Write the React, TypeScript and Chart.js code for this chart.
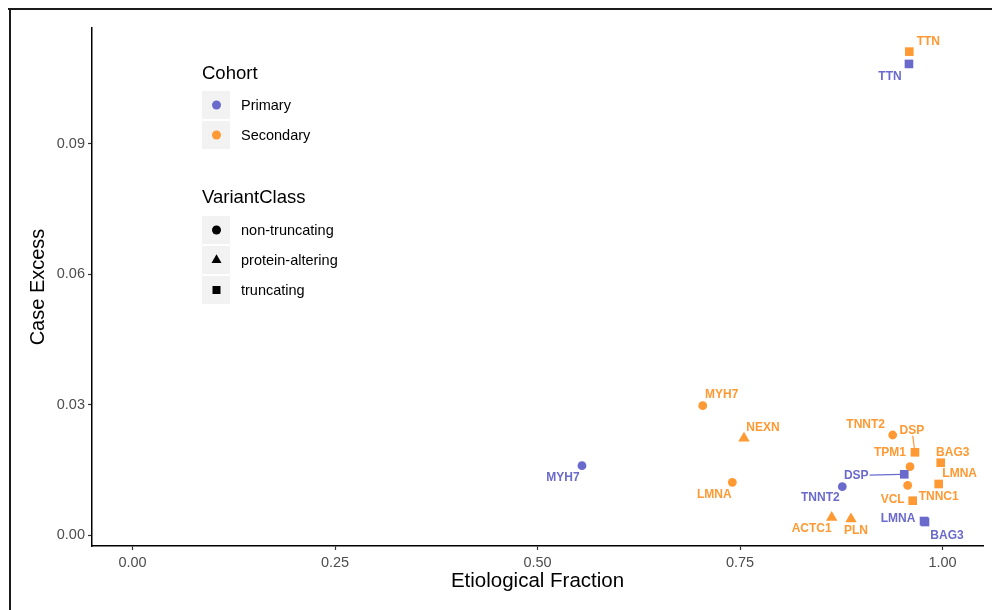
import React, { useEffect, useRef } from 'react';
import { Chart, registerables } from 'chart.js';

Chart.register(...registerables);

// ---- data ----
const cohorts = ['Primary', 'Secondary'];
const cohortColors = ['#6a6acd', '#ff9933'];
const variantClasses = ['non-truncating', 'protein-altering', 'truncating'];
const classShapes = ['circle', 'triangle', 'rect'];

const primaryGenes = ['MYH7', 'TNNT2', 'DSP', 'LMNA', 'BAG3', 'TTN'];
const primaryClass = ['non-truncating', 'non-truncating', 'truncating', 'truncating', 'truncating', 'truncating'];
const primaryEtiologicalFraction = [0.5549, 0.8763, 0.9528, 0.9772, 0.9784, 0.9586];
const primaryCaseExcess = [0.01595, 0.01112, 0.01397, 0.00322, 0.00299, 0.10843];
// label nudges (px) and whether a connector segment is drawn
const primaryLabelNudge = [[-19, 12], [-22, 11], [-48, 1], [-26, -2], [22, 14], [-19, 13]];
const primaryLabelSegment = [false, false, true, false, false, false];

const secondaryGenes = ['MYH7', 'NEXN', 'LMNA', 'TNNT2', 'DSP', 'TPM1', 'VCL', 'TNNC1', 'BAG3', 'LMNA', 'ACTC1', 'PLN', 'TTN'];
const secondaryClass = ['non-truncating', 'protein-altering', 'non-truncating', 'non-truncating', 'truncating', 'non-truncating', 'non-truncating', 'truncating', 'truncating', 'truncating', 'protein-altering', 'protein-altering', 'truncating'];
const secondaryEtiologicalFraction = [0.7040, 0.7549, 0.7405, 0.9385, 0.9660, 0.9599, 0.9570, 0.9632, 0.9978, 0.9953, 0.8632, 0.8870, 0.9590];
const secondaryCaseExcess = [0.02977, 0.02226, 0.01213, 0.02302, 0.01904, 0.01572, 0.01144, 0.00790, 0.01664, 0.01174, 0.00403, 0.00368, 0.11126];
const secondaryLabelNudge = [[19, -11], [19, -11], [-18, 12], [-27, -10], [-3, -22], [-20, -14], [-15, 14], [26, -4], [12, -10], [21, -10], [-20, 11], [5, 12], [19, -10]];
const secondaryLabelSegment = [false, false, false, false, true, false, false, false, false, false, false, false, false];

const xTicks = [0, 0.25, 0.5, 0.75, 1.0];
const yTicks = [0, 0.03, 0.06, 0.09];

const FONT = '"Liberation Sans", Arial, sans-serif';

const shapeFor = (cls: string) => classShapes[variantClasses.indexOf(cls)];
const radiusFor = (cls: string) => {
  const s = shapeFor(cls);
  return s === 'circle' ? 4.4 : s === 'triangle' ? 6.6 : 6.1;
};

const labelsMeta = [
  { genes: primaryGenes, nudge: primaryLabelNudge, seg: primaryLabelSegment },
  { genes: secondaryGenes, nudge: secondaryLabelNudge, seg: secondaryLabelSegment },
];

function drawShape(ctx: CanvasRenderingContext2D, shape: string, x: number, y: number) {
  ctx.beginPath();
  if (shape === 'circle') {
    ctx.arc(x, y, 4.5, 0, Math.PI * 2);
  } else if (shape === 'triangle') {
    const r = 5.8;
    ctx.moveTo(x, y - r);
    ctx.lineTo(x + r * Math.sin((2 * Math.PI) / 3), y - r * Math.cos((2 * Math.PI) / 3));
    ctx.lineTo(x + r * Math.sin((4 * Math.PI) / 3), y - r * Math.cos((4 * Math.PI) / 3));
    ctx.closePath();
  } else {
    ctx.rect(x - 4, y - 4, 8, 8);
  }
  ctx.fill();
}

const decorPlugin = {
  id: 'decor',
  afterDatasetsDraw(chart: any) {
    const ctx: CanvasRenderingContext2D = chart.ctx;
    ctx.save();
    ctx.font = `bold 12px ${FONT}`;
    ctx.textAlign = 'center';
    ctx.textBaseline = 'middle';
    chart.data.datasets.forEach((ds: any, di: number) => {
      const meta = chart.getDatasetMeta(di);
      const info = labelsMeta[di];
      meta.data.forEach((pt: any, i: number) => {
        const [dx, dy] = info.nudge[i];
        const lx = pt.x + dx;
        const ly = pt.y + dy;
        const text = info.genes[i];
        ctx.fillStyle = ds.backgroundColor;
        ctx.fillText(text, lx, ly);
        if (info.seg[i]) {
          const w = ctx.measureText(text).width / 2 + 1;
          const h = 5.5;
          const vx = pt.x - lx;
          const vy = pt.y - ly;
          const tx = Math.abs(vx) > 0 ? w / Math.abs(vx) : Infinity;
          const ty = Math.abs(vy) > 0 ? h / Math.abs(vy) : Infinity;
          const t0 = Math.min(tx, ty);
          const len = Math.hypot(vx, vy);
          const t1 = 1 - 3.5 / len;
          ctx.strokeStyle = ds.backgroundColor;
          ctx.lineWidth = 1.2;
          ctx.beginPath();
          ctx.moveTo(lx + vx * t0, ly + vy * t0);
          ctx.lineTo(lx + vx * t1, ly + vy * t1);
          ctx.stroke();
        }
      });
    });
    ctx.restore();
  },
  afterDraw(chart: any) {
    const ctx: CanvasRenderingContext2D = chart.ctx;
    ctx.save();
    // outer frame
    ctx.fillStyle = '#1a1a1a';
    ctx.fillRect(8, 8, 990, 2);
    ctx.fillRect(9, 8, 2, 610);

    // legend: Cohort
    ctx.textAlign = 'left';
    ctx.textBaseline = 'middle';
    ctx.fillStyle = '#000';
    ctx.font = `18.5px ${FONT}`;
    ctx.fillText('Cohort', 202, 73.5);
    ctx.font = `14.5px ${FONT}`;
    cohorts.forEach((c, i) => {
      const top = 91 + i * 30;
      ctx.fillStyle = '#f2f2f2';
      ctx.fillRect(202, top, 28, 28);
      ctx.fillStyle = cohortColors[i];
      drawShape(ctx, 'circle', 216.5, top + 14);
      ctx.fillStyle = '#000';
      ctx.fillText(c, 241, top + 14.5);
    });
    // legend: VariantClass
    ctx.font = `18.5px ${FONT}`;
    ctx.fillText('VariantClass', 202, 197.5);
    ctx.font = `14.5px ${FONT}`;
    variantClasses.forEach((v, i) => {
      const top = 216 + i * 30;
      ctx.fillStyle = '#f2f2f2';
      ctx.fillRect(202, top, 28, 28);
      ctx.fillStyle = '#000';
      drawShape(ctx, classShapes[i], 216.5, top + 14);
      ctx.fillText(v, 241, top + 14.5);
    });
    ctx.restore();
  },
};

function buildDataset(label: string, color: string, ef: number[], ce: number[], cls: string[]) {
  return {
    label,
    data: ef.map((x, i) => ({ x, y: ce[i] })),
    backgroundColor: color,
    borderColor: color,
    pointStyle: cls.map(shapeFor),
    pointRadius: cls.map(radiusFor),
    pointHoverRadius: cls.map(radiusFor),
    pointBorderWidth: 0,
    showLine: false,
  };
}

export default function App() {
  const ref = useRef<HTMLCanvasElement>(null);
  useEffect(() => {
    if (!ref.current) return;
    const chart = new Chart(ref.current, {
      type: 'scatter',
      data: {
        datasets: [
          buildDataset(cohorts[0], cohortColors[0], primaryEtiologicalFraction, primaryCaseExcess, primaryClass),
          buildDataset(cohorts[1], cohortColors[1], secondaryEtiologicalFraction, secondaryCaseExcess, secondaryClass),
        ],
      },
      options: {
        animation: false,
        responsive: true,
        maintainAspectRatio: false,
        layout: { padding: { top: 28, right: 9, bottom: 0, left: 0 } },
        plugins: { legend: { display: false }, tooltip: { enabled: false } },
        scales: {
          x: {
            type: 'linear',
            min: -0.05,
            max: 1.05,
            afterBuildTicks: (s: any) => {
              s.ticks = xTicks.map((v) => ({ value: v }));
            },
            afterFit: (s: any) => {
              s.height = 64;
            },
            ticks: {
              callback: (v: any) => Number(v).toFixed(2),
              color: '#4d4d4d',
              font: { size: 14.5, family: FONT },
              padding: 4,
              maxRotation: 0,
            },
            grid: { drawOnChartArea: false, drawTicks: true, tickLength: 4, color: '#333', tickWidth: 1.2 },
            border: { display: true, color: '#000', width: 1.5 },
            title: {
              display: true,
              text: 'Etiological Fraction',
              color: '#000',
              font: { size: 20.5, family: FONT },
              padding: { top: 0, bottom: 16.7 },
            },
          },
          y: {
            type: 'linear',
            min: -0.00253,
            max: 0.1167,
            afterBuildTicks: (s: any) => {
              s.ticks = yTicks.map((v) => ({ value: v }));
            },
            afterFit: (s: any) => {
              s.width = 92;
            },
            ticks: {
              callback: (v: any) => Number(v).toFixed(2),
              color: '#4d4d4d',
              font: { size: 14.5, family: FONT },
              padding: 3,
            },
            grid: { drawOnChartArea: false, drawTicks: true, tickLength: 4, color: '#333', tickWidth: 1.2 },
            border: { display: true, color: '#000', width: 1.5 },
            title: {
              display: true,
              text: 'Case Excess',
              color: '#000',
              font: { size: 20, family: FONT },
              padding: { top: 26, bottom: 0 },
            },
          },
        },
      },
      plugins: [decorPlugin],
    } as any);
    return () => chart.destroy();
  }, []);
  return (
    <div style={{ position: 'absolute', left: 0, top: 0, width: 992, height: 610 }}>
      <canvas ref={ref} />
    </div>
  );
}
